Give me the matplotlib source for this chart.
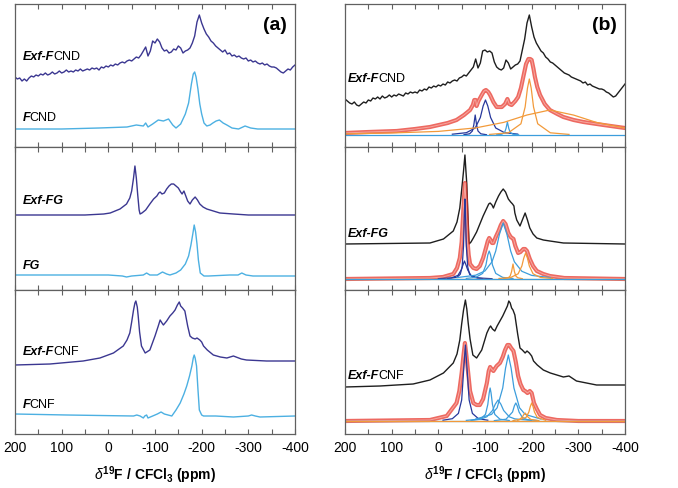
import matplotlib.pyplot as plt
from matplotlib.ticker import MultipleLocator

plt.rcParams['font.family'] = 'Liberation Sans'
plt.rcParams['axes.unicode_minus'] = False
plt.rcParams['mathtext.fontset'] = 'custom'
plt.rcParams['mathtext.rm'] = 'Liberation Sans'
plt.rcParams['mathtext.bf'] = 'Liberation Sans:bold'
plt.rcParams['mathtext.it'] = 'Liberation Sans:italic'

# ---------- data (ppm, intensity above baseline, arb. units) ----------
grid = list(range(200, -401, -5))

# (a) top: Exf-FCND (noisy, 5 ppm grid) and FCND
a_exf_fcnd = [0, -2, -1, -4, -2, -4, -1, 1, 0, 2,
              1, 3, 2, 4, 2, 3, 5, 3, 4, 6,
              4, 5, 7, 5, 6, 5, 7, 6, 8, 6,
              7, 8, 7, 9, 8, 9, 7, 10, 9, 11,
              10, 12, 11, 13, 12, 14, 15, 14, 16, 17,
              16, 18, 20, 19, 22, 26, 30, 21, 26, 36,
              34, 38, 35, 29, 26, 27, 24, 25, 28, 27,
              31, 29, 24, 26, 27, 29, 34, 41, 55, 62,
              54, 48, 43, 40, 36, 34, 31, 29, 27, 25,
              27, 23, 24, 21, 22, 20, 21, 19, 18, 19,
              16, 17, 15, 16, 14, 13, 14, 12, 13, 11,
              10, 10, 9, 7, 5, 4, 6, 8, 7, 10,
              12]
a_fcnd_ppm = [200, 100, 20, -40, -60, -75, -80, -85, -95, -107, -118, -129, -138, -145, -155,
              -165, -172, -178, -182, -185, -188, -192, -196, -200, -205, -211, -218, -224, -231,
              -238, -246, -254, -265, -279, -293, -305, -320, -400]
a_fcnd = [0, 0, 1, 2, 4, 3, 6, 2, 5, 9, 8, 10, 4, 1, 5,
          15, 26, 45, 55, 57, 52, 40, 25, 15, 6, 3, 4, 6, 8,
          9, 6, 4, 1, 0, 3, 1, 0, 0]

# (a) middle: Exf-FG and FG
a_exf_fg_ppm = [200, 50, 10, -4, -25, -39, -46, -50, -54, -57, -60, -63, -66, -68, -72,
                -80, -89, -97, -104, -108, -111, -115, -120, -125, -130, -135, -140, -145, -150,
                -155, -158, -162, -166, -170, -175, -180, -186, -191, -196, -203, -211, -225,
                -239, -268, -300, -400]
a_exf_fg = [0, 0, 1, 2, 6, 11, 17, 24, 37, 49, 37, 20, 5, 1, 2,
            5, 11, 16, 19, 22, 23, 21, 22, 26, 29, 31, 31, 29, 27,
            23, 21, 24, 19, 14, 11, 15, 18, 15, 11, 8, 6, 4,
            2, 1, 0, 0]
a_fg_ppm = [200, 0, -30, -39, -50, -75, -82, -89, -105, -116, -125, -132, -145, -155, -165,
            -172, -177, -181, -184, -187, -190, -193, -197, -205, -215, -260, -278, -286, -295,
            -310, -400]
a_fg = [0, 0, -1, -2, -1, 0, 2, 0, 0, 3, 1, 0, 2, 5, 11,
        19, 30, 41, 50, 43, 31, 15, 2, -1, -1, 0, 0, 2, 0,
        -1, -1]

# (a) bottom: Exf-FCNF and FCNF
a_exf_fcnf_ppm = [200, 125, 54, 18, -11, -32, -40, -46, -50, -54, -57, -59, -62, -64, -67,
                  -71, -79, -89, -100, -107, -111, -115, -118, -125, -132, -138, -143, -148,
                  -152, -155, -159, -164, -170, -175, -180, -186, -190, -196, -200, -204, -212,
                  -225, -240, -254, -268, -285, -296, -339, -400]
a_exf_fcnf = [0, 1, 4, 7, 12, 19, 25, 32, 43, 55, 62, 64, 58, 49, 33,
              19, 12, 15, 29, 39, 45, 42, 40, 44, 49, 52, 55, 60,
              63, 59, 57, 54, 39, 29, 27, 26, 27, 25, 23, 19, 15,
              10, 8, 7, 9, 6, 5, 4, 4]
a_fcnf_ppm = [200, 89, -54, -61, -68, -75, -78, -82, -85, -95, -105, -113, -120, -128, -136,
              -145, -154, -162, -168, -174, -179, -182, -184, -186, -189, -192, -195, -200, -204,
              -230, -268, -300, -307, -315, -325, -400]
a_fcnf = [1, 0, -1, 0, -1, -3, -1, 0, -3, -1, 1, 3, 1, 0, -1,
          5, 12, 21, 29, 39, 49, 57, 60, 57, 49, 26, 5, 0, -1,
          -1, -2, -1, 0, -1, -2, -1]

# (b) top: Exf-FCND experimental (5 ppm grid), fit and components
b_exf_fcnd = [0, -2, -4, -5, -3, -6, -7, -5, -3, -4,
              -1, -2, 1, 0, 2, 0, 3, 1, 2, 4,
              2, 4, 3, 5, 4, 3, 6, 5, 7, 6,
              7, 6, 9, 8, 10, 9, 12, 11, 13, 12,
              14, 13, 15, 14, 17, 16, 18, 19, 18, 21,
              22, 24, 23, 26, 29, 32, 40, 31, 36, 48,
              49, 47, 48, 46, 37, 32, 30, 29, 31, 39,
              36, 30, 32, 34, 35, 38, 49, 60, 76, 84,
              72, 62, 56, 52, 48, 46, 42, 40, 37, 36,
              34, 32, 30, 28, 26, 25, 24, 22, 21, 20,
              19, 18, 16, 17, 14, 15, 13, 12, 11, 10,
              10, 9, 7, 6, 4, 2, 3, 6, 9, 12,
              15]
b1_fit_ppm = [200, 150, 89, 50, 18, -20, -39, -55, -68, -74, -77, -80, -82, -86, -93,
              -98, -102, -107, -111, -118, -125, -136, -143, -148, -152, -157, -165, -171,
              -177, -182, -188, -193, -197, -200, -204, -207, -212, -218, -228, -239, -255,
              -268, -290, -311, -354, -400]
b1_fit = [2, 3, 4, 6, 8, 12, 15, 20, 25, 30, 35, 35, 29, 34, 40,
          44, 45, 43, 40, 33, 28, 28, 31, 36, 31, 30, 34, 38,
          47, 58, 71, 76, 76, 75, 66, 58, 48, 40, 31, 25, 21,
          18, 15, 13, 10, 7]
b1_comp_group = ['dark', 'dark', 'light', 'orange', 'orange', 'light']
b1_comp_ppm = [
    [-55, -67, -73, -76, -79, -82, -85, -91, -103],
    [-30, -60, -79, -90, -96, -101, -106, -112, -123, -142, -170],
    [-125, -136, -142, -145, -148, -151, -154, -160, -172],
    [-110, -150, -177, -186, -191, -195, -199, -204, -213, -240, -280],
    [200, 100, 0, -80, -140, -190, -239, -290, -340, -400],
    [200, -400],
]
b1_comp_val = [
    [0.3, 1.2, 4, 10, 20, 10, 4, 1.2, 0.3],
    [0.8, 2.3, 7, 17.5, 29, 35, 29, 17.5, 7, 2.3, 0.9],
    [0.2, 0.8, 2.6, 6.5, 13, 6.5, 2.6, 0.8, 0.2],
    [0.6, 2.2, 11.2, 28, 46.8, 56, 46.8, 28, 11.2, 2.2, 0.6],
    [1.2, 2, 3.6, 7.1, 12.6, 20, 25, 19.9, 12.4, 7],
    [0, 0],
]

# (b) middle: Exf-FG
b2_exp_ppm = [200, 18, -11, -32, -40, -46, -50, -54, -57, -59, -61, -63, -66, -70, -75,
              -82, -89, -96, -104, -108, -111, -115, -118, -123, -129, -134, -139, -144, -150,
              -155, -159, -162, -164, -168, -175, -180, -186, -191, -196, -203, -211, -225,
              -239, -268, -400]
b2_exp = [0, 1, 5, 13, 22, 36, 54, 73, 89, 74, 60, 34, 0, 2, 6,
          12, 20, 28, 36, 40, 41, 39, 36, 42, 48, 52, 55, 52, 45,
          42, 40, 38, 31, 24, 18, 24, 31, 24, 16, 10, 6, 4,
          3, 1, 0]
b2_fit_ppm = [200, 18, -10, -32, -40, -46, -50, -52, -55, -57, -59, -62, -65, -68, -75,
              -82, -89, -96, -102, -106, -109, -112, -115, -118, -123, -129, -134, -139, -144,
              -150, -155, -158, -161, -165, -171, -176, -182, -186, -190, -196, -203, -211,
              -225, -239, -270, -400]
b2_fit = [0, 1, 2, 5, 11, 21, 37, 55, 81, 96, 79, 41, 24, 15, 11,
          10, 13, 21, 31, 38, 41, 39, 36, 36, 42, 48, 54, 58, 55,
          46, 42, 41, 40, 33, 26, 27, 30, 30, 28, 20, 13, 8,
          5, 3, 1, 0]
b2_comp_group = ['dark', 'dark', 'light', 'light', 'orange', 'orange', 'orange', 'light']
b2_comp_ppm = [
    [-20, -40, -47, -51, -54, -56, -57, -58, -60, -63, -67, -74, -95],
    [0, -28, -42, -49, -53, -56, -59, -63, -70, -84, -115],
    [-60, -80, -95, -102, -106, -109, -112, -116, -123, -138, -160],
    [-40, -80, -100, -115, -123, -131, -139, -147, -155, -163, -179, -200, -240],
    [-140, -150, -154, -157, -160, -163, -166, -170, -180],
    [-130, -155, -171, -179, -183, -187, -191, -195, -203, -219, -245],
    [200, -400],
    [200, -400],
]
b2_comp_val = [
    [0.4, 1.7, 4.7, 12, 33, 69, 80, 69, 33, 12, 4.7, 1.7, 0.4],
    [0.3, 1.1, 3.6, 9, 14.4, 18, 14.4, 9, 3.6, 1.1, 0.3],
    [0.6, 1.6, 5.6, 14, 24, 28, 24, 14, 5.6, 1.6, 0.5],
    [1.4, 3.8, 8.1, 17.2, 28, 44.8, 56, 44.8, 28, 17.2, 7.7, 3.6, 1.4],
    [0.3, 1.3, 3, 7.5, 15, 7.5, 3, 1.3, 0.3],
    [0.5, 1.5, 5.2, 13, 20.8, 26, 20.8, 13, 5.2, 1.5, 0.5],
    [0, 0],
    [0, 0],
]

# (b) bottom: Exf-FCNF
b3_exp_ppm = [200, 125, 54, 18, -11, -32, -40, -46, -50, -54, -58, -61, -64, -68, -74,
              -82, -93, -104, -109, -112, -116, -121, -126, -132, -138, -143, -148, -151,
              -154, -157, -160, -164, -170, -175, -180, -186, -190, -195, -200, -204, -212,
              -225, -240, -254, -268, -280, -296, -339, -400]
b3_exp = [0, 1, 3, 7, 14, 24, 33, 47, 63, 77, 87, 78, 64, 48, 32,
          29, 37, 54, 59, 61, 58, 56, 61, 66, 71, 76, 81, 86,
          84, 79, 77, 72, 53, 39, 37, 34, 36, 34, 31, 26, 22,
          17, 14, 12, 10, 11, 6, 2, 2]
b3_fit_ppm = [200, 18, -18, -39, -45, -50, -54, -57, -60, -64, -68, -75, -82, -89, -96,
              -104, -108, -111, -114, -118, -125, -132, -138, -143, -148, -152, -156, -161,
              -166, -171, -176, -182, -186, -191, -196, -200, -205, -211, -218, -230, -254,
              -300, -400]
b3_fit = [0, 1, 5, 18, 30, 48, 66, 78, 66, 48, 30, 18, 16, 16, 22,
          38, 50, 54, 52, 50, 55, 58, 64, 71, 76, 76, 73, 70,
          59, 45, 37, 31, 30, 28, 30, 28, 18, 12, 6, 3, 1,
          0, 0]
b3_comp_group = ['dark', 'light', 'light', 'light', 'light', 'orange', 'orange', 'light', 'orange']
b3_comp_ppm = [
    [-10, -30, -43, -50, -55, -58, -61, -66, -73, -86, -106],
    [-70, -90, -101, -106, -109, -111, -113, -116, -121, -132, -152],
    [-60, -92, -104, -116, -122, -128, -134, -140, -152, -164, -200],
    [-80, -114, -126, -138, -144, -150, -156, -162, -174, -186, -220],
    [-120, -145, -159, -163, -166, -169, -173, -180, -190, -215],
    [-160, -174, -180, -183, -186, -189, -192, -198, -215],
    [-170, -188, -194, -197, -200, -203, -206, -212, -230],
    [200, -400],
    [200, -400],
]
b3_comp_val = [
    [0.8, 2.3, 7.6, 21, 56, 76, 56, 21, 7.6, 2.3, 0.8],
    [0.5, 1.8, 6.6, 16.5, 28, 33, 28, 16.5, 6.6, 1.8, 0.5],
    [0.6, 2.1, 4.2, 10.5, 16.8, 21, 16.8, 10.5, 4.2, 2.1, 0.6],
    [1.9, 6.6, 13.2, 33, 52.8, 66, 52.8, 33, 13.2, 6.6, 1.9],
    [0.4, 1.8, 9, 15.2, 18, 15.2, 9, 3.6, 1.4, 0.4],
    [0.4, 1.6, 4, 6.4, 8, 6.4, 4, 1.6, 0.3],
    [0.7, 3.6, 9, 14.4, 18, 14.4, 9, 3.6, 0.7],
    [0, 0],
    [0, 0],
]

# ---------- styling ----------
DARK_A = '#3b3791'
LIGHT_A = '#4cb0e2'
BLACK = '#1e1e1e'
RED = '#e8372c'
COMP = {'dark': '#27389c', 'light': '#3c9ddc', 'orange': '#f29a3a'}
SPINE = '#606060'

W, H = 678, 488
fig = plt.figure(figsize=(W / 100, H / 100), dpi=100)

rows = [(4, 147), (147, 290), (290, 434)]


def make_ax(x0, row, bottom_row):
    y0, y1 = row
    ax = fig.add_axes([x0 / W, 1 - y1 / H, 280 / W, (y1 - y0) / H])
    ax.set_xlim(200, -400)
    ax.set_ylim(0, y1 - y0)
    ax.set_yticks([])
    ax.xaxis.set_major_locator(MultipleLocator(100))
    ax.xaxis.set_minor_locator(MultipleLocator(50))
    ax.tick_params(which='both', direction='in', top=True, bottom=True, length=3.5,
                   width=0.8, color=SPINE, labelsize=10, pad=5,
                   labelbottom=bottom_row)
    for s in ax.spines.values():
        s.set_color(SPINE)
        s.set_linewidth(0.9)
    if bottom_row:
        ax.set_xlabel(r'$\delta^{\mathbf{19}}$F / CFCl$_{\mathbf{3}}$ (ppm)',
                      fontsize=10, fontweight='bold', labelpad=7)
    return ax


def label(ax, x, y, bold_part, reg_part=''):
    t = ax.text(x, y, bold_part, fontsize=9, fontweight='bold', style='italic',
                ha='left', va='baseline')
    if reg_part:
        ax.annotate(reg_part, xy=(1, 0), xycoords=t, xytext=(-0.4, 0),
                    textcoords='offset points', fontsize=9, ha='left', va='bottom')


def shift(vals, off):
    return [v + off for v in vals]


axes_a = [make_ax(15, r, i == 2) for i, r in enumerate(rows)]
axes_b = [make_ax(345, r, i == 2) for i, r in enumerate(rows)]

# ---------- (a) ----------
ax = axes_a[0]
ax.plot(grid, shift(a_exf_fcnd, 70), color=DARK_A, lw=1.0)
ax.plot(a_fcnd_ppm, shift(a_fcnd, 18), color=LIGHT_A, lw=1.0)
label(ax, 183.5, 87, 'Exf-F', 'CND')
label(ax, 183.5, 26, 'F', 'CND')
ax.text(-357, 122, '(a)', fontsize=14, fontweight='bold', ha='center', va='center')

ax = axes_a[1]
ax.plot(a_exf_fg_ppm, shift(a_exf_fg, 75), color=DARK_A, lw=1.0)
ax.plot(a_fg_ppm, shift(a_fg, 15), color=LIGHT_A, lw=1.0)
label(ax, 183.5, 86, 'Exf-FG')
label(ax, 183.5, 21, 'FG')

ax = axes_a[2]
ax.plot(a_exf_fcnf_ppm, shift(a_exf_fcnf, 69), color=DARK_A, lw=1.0)
ax.plot(a_fcnf_ppm, shift(a_fcnf, 19), color=LIGHT_A, lw=1.0)
label(ax, 183.5, 79, 'Exf-F', 'CNF')
label(ax, 183.5, 26, 'F', 'CNF')

# ---------- (b) ----------
panels_b = [
    (grid, b_exf_fcnd, 48, b1_fit_ppm, b1_fit, 12, b1_comp_ppm, b1_comp_val, b1_comp_group),
    (b2_exp_ppm, b2_exp, 46, b2_fit_ppm, b2_fit, 11, b2_comp_ppm, b2_comp_val, b2_comp_group),
    (b3_exp_ppm, b3_exp, 47, b3_fit_ppm, b3_fit, 13, b3_comp_ppm, b3_comp_val, b3_comp_group),
]
for ax, (ep, ev, eoff, fp, fv, foff, cps, cvs, cgs) in zip(axes_b, panels_b):
    ax.plot(ep, shift(ev, eoff), color=BLACK, lw=1.0)
    ax.plot(fp, shift(fv, foff), color=RED, lw=3.0, alpha=0.75, solid_capstyle='round')
    ax.plot(fp, shift(fv, foff), color='#f6a8a0', lw=0.7)
    for cp, cv, cg in zip(cps, cvs, cgs):
        ax.plot(cp, shift(cv, foff), color=COMP[cg], lw=0.9)

label(axes_b[0], 193.5, 65, 'Exf-F', 'CND')
label(axes_b[1], 193.5, 53, 'Exf-FG')
label(axes_b[2], 193.5, 55, 'Exf-F', 'CNF')
axes_b[0].text(-357, 122, '(b)', fontsize=14, fontweight='bold', ha='center', va='center')

fig.savefig('out.png', dpi=100)
